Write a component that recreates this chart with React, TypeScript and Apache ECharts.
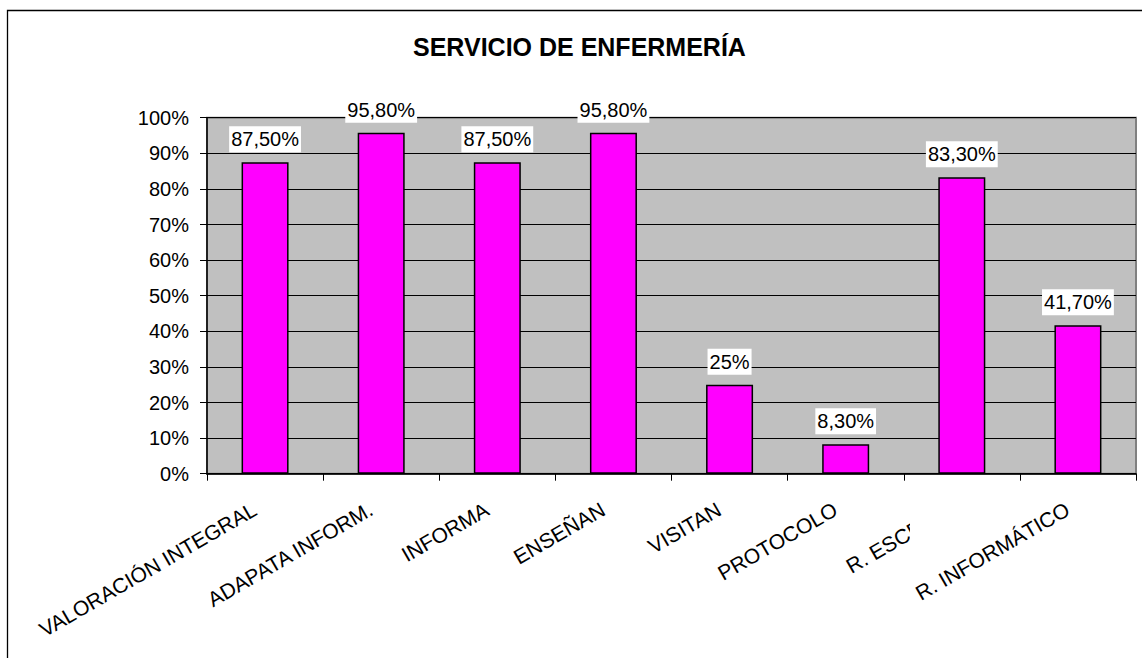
import React, { useEffect, useRef } from "react";
import * as echarts from "echarts";

const title = "SERVICIO DE ENFERMERÍA";
const categories = [
  "VALORACIÓN INTEGRAL",
  "ADAPATA INFORM.",
  "INFORMA",
  "ENSEÑAN",
  "VISITAN",
  "PROTOCOLO",
  "R. ESCRITO",
  "R. INFORMÁTICO",
];
const values = [87.5, 95.8, 87.5, 95.8, 25, 8.3, 83.3, 41.7];
const yTicks = [0, 10, 20, 30, 40, 50, 60, 70, 80, 90, 100];
const clippedCategory = "R. ESCRITO";

const fmtPct = (v: number) =>
  Number.isInteger(v) ? `${v}%` : `${v.toFixed(2).replace(".", ",")}%`;

export default function App() {
  const ref = useRef<HTMLDivElement>(null);
  useEffect(() => {
    if (!ref.current) return;
    const chart = echarts.init(ref.current, null, { renderer: "svg" });
    const font = "Arial, 'Liberation Sans', sans-serif";
    const labelCommon = {
      rotate: 30,
      fontSize: 21,
      fontFamily: font,
      color: "#000",
      margin: 28,
      padding: [0, 12, 0, 0],
    };
    chart.setOption({
      animation: false,
      backgroundColor: "#fff",
      title: {
        text: title,
        left: 413,
        top: 34,
        padding: 0,
        textStyle: { fontSize: 25, fontWeight: "bold", fontFamily: font, color: "#000" },
      },
      grid: {
        left: 207,
        top: 117.7,
        right: 6,
        bottom: 184.3,
        show: true,
        backgroundColor: "#c0c0c0",
        borderColor: "#808080",
        borderWidth: 2,
      },
      xAxis: [
        {
          type: "category",
          data: categories,
          position: "bottom",
          z: 2,
          axisLine: { show: true, lineStyle: { color: "#000", width: 1.5 } },
          axisTick: { show: true, length: 7, lineStyle: { color: "#000", width: 1 } },
          axisLabel: {
            ...labelCommon,
            interval: 0,
            formatter: (v: string) => (v === clippedCategory ? "" : v),
          },
        },
        {
          type: "category",
          data: categories,
          position: "bottom",
          z: 0,
          axisLine: { show: false },
          axisTick: { show: false },
          axisLabel: {
            ...labelCommon,
            interval: 0,
            formatter: (v: string) => (v === clippedCategory ? v : ""),
          },
        },
      ],
      yAxis: {
        type: "value",
        min: 0,
        max: 100,
        interval: 10,
        axisLine: { show: true, lineStyle: { color: "#000", width: 1.5 } },
        axisTick: { show: true, length: 7, lineStyle: { color: "#000", width: 1 } },
        axisLabel: {
          formatter: (v: number) => `${v}%`,
          fontSize: 20,
          fontFamily: font,
          color: "#000",
          margin: 18,
          customValues: yTicks,
        },
        splitLine: { show: true, lineStyle: { color: "#000", width: 1 } },
      },
      graphic: [
        {
          type: "rect",
          z: 1,
          shape: { x: 910, y: 482, width: 260, height: 190 },
          style: { fill: "#fff" },
          silent: true,
        },
        {
          type: "rect",
          z: 10,
          shape: { x: 7.5, y: 10.5, width: 1300, height: 800 },
          style: { fill: "none", stroke: "#000", lineWidth: 1.3 },
          silent: true,
        },
      ],
      series: [
        {
          type: "bar",
          xAxisIndex: 0,
          data: values,
          barWidth: 47,
          itemStyle: { color: "#ff00ff", borderColor: "#000", borderWidth: 1.5 },
          label: {
            show: true,
            position: "top",
            distance: 10,
            formatter: (p: any) => fmtPct(p.value),
            fontSize: 20,
            fontFamily: font,
            color: "#000",
            backgroundColor: "#fff",
            padding: [3, 2, 3, 2],
          },
        },
      ],
    });
    return () => chart.dispose();
  }, []);
  return (
    <div
      ref={ref}
      style={{ position: "fixed", left: 0, top: 0, width: 1142, height: 658 }}
    />
  );
}
